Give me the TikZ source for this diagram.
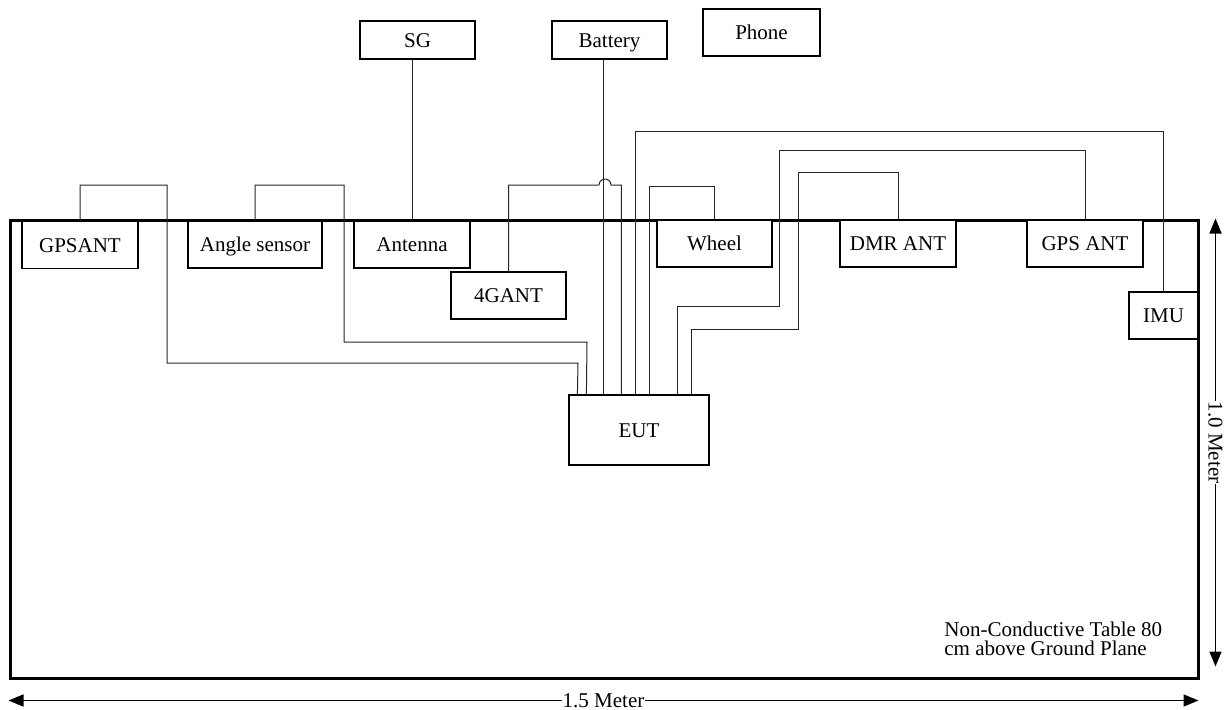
\documentclass[tikz,border=0pt]{standalone}
\usepackage{fontspec}
\setmainfont{Liberation Serif}
\usetikzlibrary{arrows.meta}

\begin{document}
\begin{tikzpicture}[x=0.5pt, y=-0.5pt, >={Triangle[length=7.5pt,width=6pt]}, font=\fontsize{10.5}{12}\selectfont,
  unit/.style={draw,fill=white,line width=0.6pt,inner sep=0pt,text height=7.5pt,text depth=0.5pt,minimum width=58pt,minimum height=23.5pt},
  wire/.style={line width=0.5pt,black!85},
  dim/.style={<->,line width=0.8pt}]
\useasboundingbox (0,0) rectangle (1226,709);
\node(table)[draw,line width=1.5pt,inner sep=0pt,minimum width=594pt,minimum height=229pt] at (604,449) {};

\node(gpsant)[unit] at (80,245) {GPSANT};
\node(angle)[unit,minimum width=67pt] at (255,244.5) {Angle sensor};
\node(antenna)[unit] at (412,244.5) {Antenna};
\node(fourg)[unit,minimum width=57.5pt] at (508.5,295.5) {4GANT};
\node(wheel)[unit,minimum width=57.5pt] at (714.5,243.5) {Wheel};
\node(dmr)[unit] at (898,243.5) {DMR ANT};
\node(gpsant2)[unit] at (1085,243.5) {GPS ANT};
\node(imu)[unit,minimum width=34.5pt] at (1163.5,315.5) {IMU};
\node(eut)[unit,minimum width=70pt,minimum height=35pt] at (639,430) {EUT};
\node(sg)[unit,minimum width=57.5pt,minimum height=19pt] at (417.5,40) {SG};
\node(battery)[unit,minimum width=57.5pt,minimum height=19pt] at (609.5,40) {Battery};
\node(phone)[unit,minimum width=58.5pt] at (761.5,32.5) {Phone};

\draw[wire] (gpsant.north) |- (167,185) |- (578,363) -- ([xshift=4.5pt]eut.north west);
\draw[wire] (angle.north) |- (344,185) |- (587,342) -- ([xshift=9pt]eut.north west);
\draw[wire] (sg.south -| antenna.north) -- (antenna.north);
\draw[wire] ([xshift=17.5pt]eut.north west |- battery.south) -- ([xshift=17.5pt]eut.north west);
\draw[wire] (fourg.north) |- (599,185) arc[start angle=180,end angle=0,radius=3pt] -| ([xshift=26.5pt]eut.north west);
\draw[wire] ([xshift=33.5pt]eut.north west) -- ++(0,-263) -| (imu.north);
\draw[wire] ([xshift=40.5pt]eut.north west) -- ++(0,-208) -| (wheel.north);
\draw[wire] ([xshift=54.5pt]eut.north west) -- ++(0,-88) -| (779,150) -| (gpsant2.north);
\draw[wire] ([xshift=61.5pt]eut.north west) -- ++(0,-65) -| (798,172) -| (dmr.north);

\node(note)[anchor=north west,align=left,inner sep=0pt,font=\fontsize{10.5}{9.5}\selectfont] at (944,622) {Non-Conductive Table 80\\cm above Ground Plane};

\draw[dim] ([yshift=-10.5pt]table.south west) -- node(width)[fill=white,inner sep=0.5pt]{1.5 Meter} ([xshift=-0.5pt,yshift=-10.5pt]table.south east);
\draw[dim] ([xshift=8pt]table.north east) -- node(height)[fill=white,inner sep=0.5pt,rotate=-90]{1.0 Meter} ([xshift=8pt,yshift=6.5pt]table.south east);
\end{tikzpicture}
\end{document}
